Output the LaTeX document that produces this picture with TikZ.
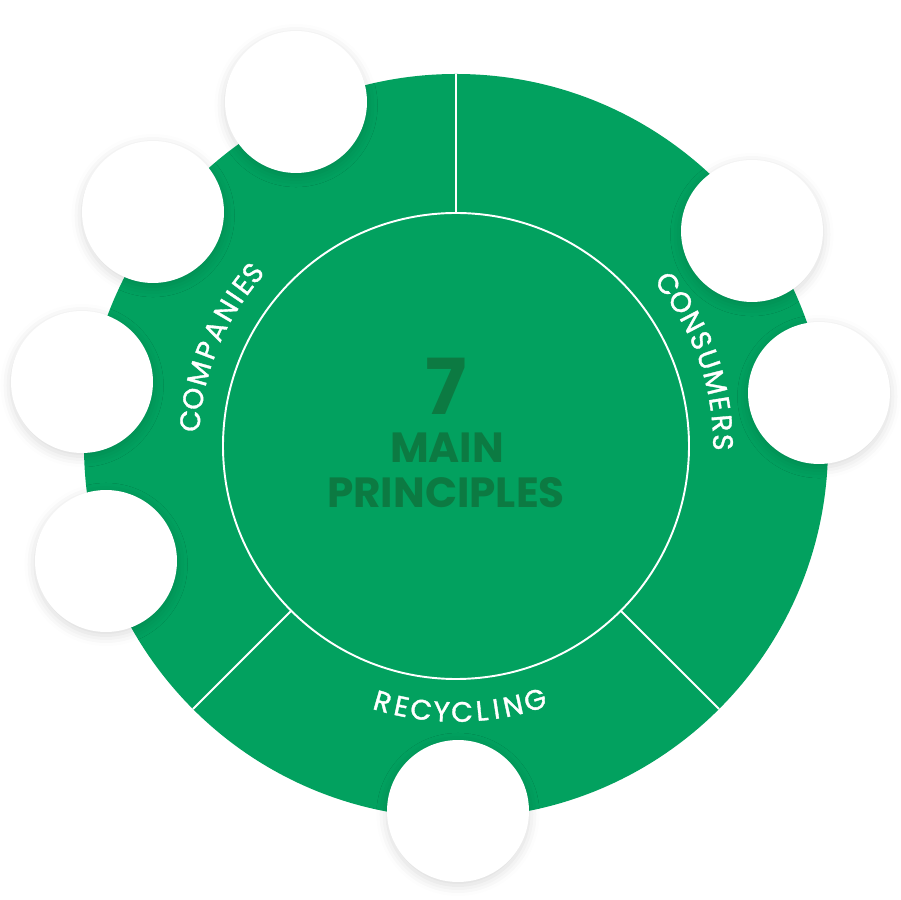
\documentclass[tikz,border=0pt]{standalone}
\usepackage{fontspec}
\setmainfont{Poppins}
\newfontfamily\labelfont{Poppins}[FakeBold=1.2]
\usetikzlibrary{shadows.blur}
\definecolor{ringgreen}{RGB}{2,161,95}
\definecolor{titlegreen}{RGB}{12,122,66}
\tikzset{
  slot/.style={circle, fill=white, minimum size=2.84cm, inner sep=0pt,
    blur shadow={shadow xshift=0pt, shadow yshift=-2pt, shadow blur radius=6pt, shadow opacity=15}},
  divider/.style={white, line width=1.1pt},
  letter/.style={white, inner sep=0pt, font=\labelfont\fontsize{16}{16}\selectfont},
  title/.style={titlegreen, inner sep=0pt, font=\bfseries\fontsize{#1}{#1}\selectfont}
}
\begin{document}
\begin{tikzpicture}[scale=0.02]
  \useasboundingbox (-456,-454) rectangle (444,446);

  % Green ring and inner disc
  \fill[ringgreen] (0,0) circle (372);
  \draw[divider] (0,0) circle (233);

  % Sector borders
  \draw[divider] (90:233) -- (90:372);
  \draw[divider] (225:233) -- (225:372);
  \draw[divider] (315:233) -- (315:372);

  % Curved sector labels, one letter at a time
  \foreach \ch/\a [count=\i] in {C/174.6, O/169.8, M/164.2, P/159.0, A/154.4, N/149.5, I/146.0, E/143.0, S/139.6}
    \node[letter, rotate=\a-90] (comp\i) at (\a:267) {\ch};
  \foreach \ch/\a [count=\i] in {C/37.4, O/32.6, N/27.7, S/23.3, U/18.9, M/13.8, E/9.1, R/4.9, S/0.8}
    \node[letter, rotate=\a-90] (cons\i) at (\a:267) {\ch};
  \foreach \ch/\a [count=\i] in {R/254.0, E/258.2, C/262.5, Y/266.9, C/271.3, L/275.6, I/278.7, N/282.4, G/287.3}
    \node[letter, rotate=\a+90] (recy\i) at (\a:266) {\ch};

  % Centre title
  \node[title=44] (seven) at (-10,60) {7};
  \node[title=24] (main) at (-9,-2) {MAIN};
  \node[title=24] (principles) at (-10,-47) {PRINCIPLES};

  % Empty slots round the ring
  \node[slot] (slot1) at (-160,344) {};
  \node[slot] (slot2) at (-303,234) {};
  \node[slot] (slot3) at (-374,64) {};
  \node[slot] (slot4) at (-350,-115) {};
  \node[slot] (slot5) at (296,215) {};
  \node[slot] (slot6) at (363,53) {};
  \node[slot] (slot7) at (2,-365) {};
\end{tikzpicture}
\end{document}
